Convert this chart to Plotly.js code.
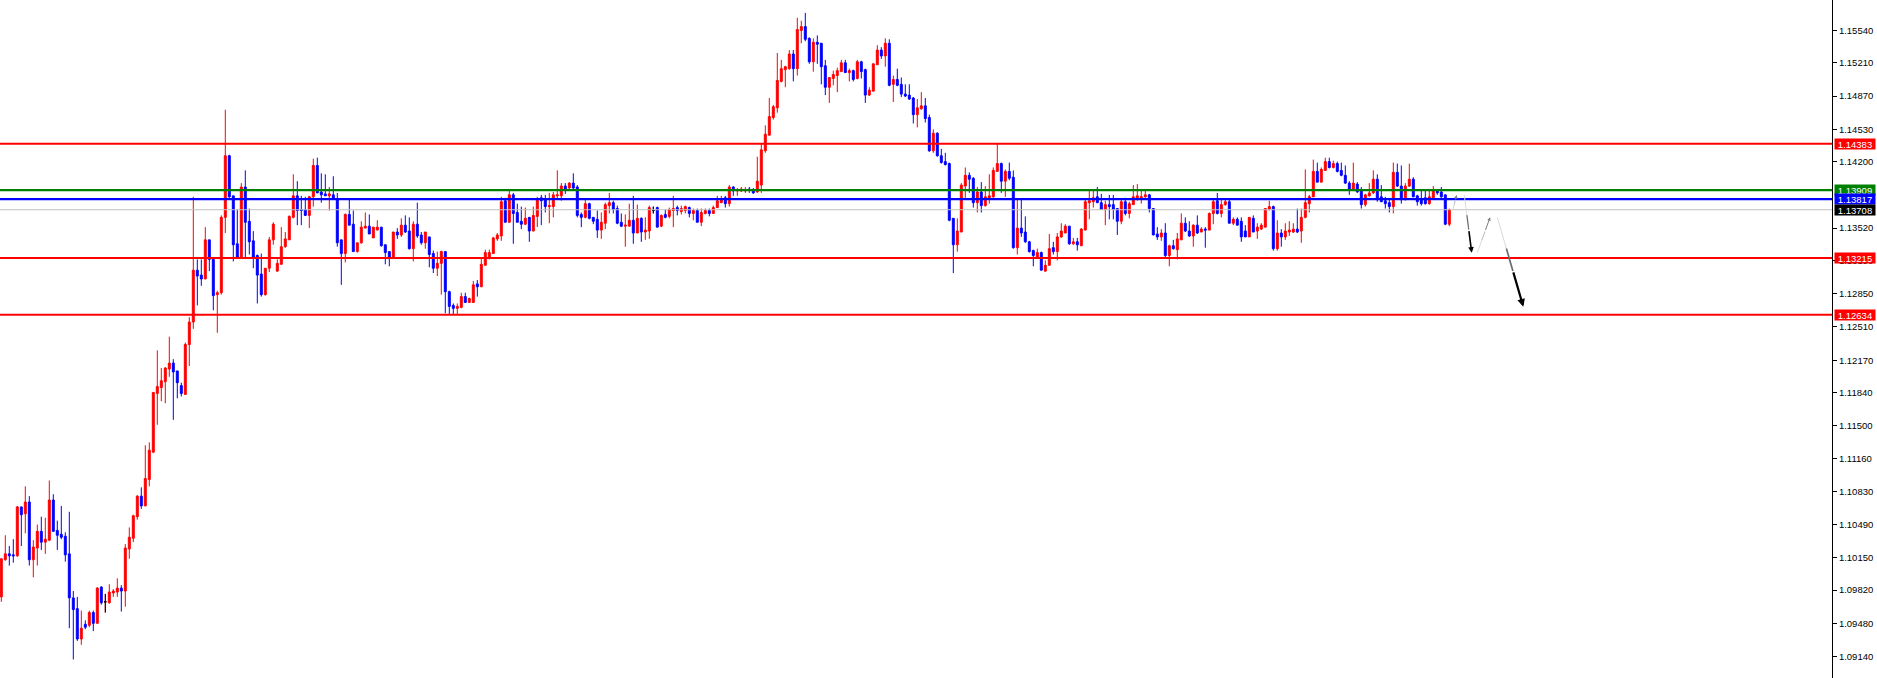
<!DOCTYPE html>
<html><head><meta charset="utf-8">
<script src="https://cdn.plot.ly/plotly-3.0.1.min.js"></script>
<style>html,body{margin:0;padding:0;background:#fff;overflow:hidden}#chart{width:1877px;height:678px}</style>
</head><body><div id="chart"></div>
<script>
const opens = [
1.0975,1.1013,1.1019,1.1018,1.1017,1.1067,1.1060,1.1072,1.1013,1.1025,
1.1042,1.1031,1.1033,1.1074,1.1043,1.1039,1.1037,1.1019,1.0974,1.0963,
1.0932,1.0947,1.0946,1.0959,1.0948,1.0985,1.0970,1.0969,1.0979,1.0980,
1.0984,1.0981,1.1024,1.1035,1.1057,1.1078,1.1068,1.1095,1.1123,1.1183,
1.1189,1.1195,1.1208,1.1214,1.1206,1.1191,1.1182,1.1233,1.1256,1.1309,
1.1304,1.1300,1.1340,1.1320,1.1284,1.1286,1.1363,1.1426,1.1385,1.1336,
1.1322,1.1394,1.1359,1.1339,1.1324,1.1305,1.1284,1.1311,1.1340,1.1308,
1.1315,1.1333,1.1340,1.1363,1.1385,1.1371,1.1371,1.1365,1.1384,1.1416,
1.1389,1.1387,1.1385,1.1386,1.1382,1.1340,1.1326,1.1366,1.1356,1.1328,
1.1337,1.1352,1.1354,1.1342,1.1350,1.1353,1.1335,1.1328,1.1322,1.1348,
1.1345,1.1355,1.1349,1.1331,1.1356,1.1345,1.1337,1.1343,1.1326,1.1311,
1.1316,1.1328,1.1287,1.1273,1.1270,1.1271,1.1282,1.1276,1.1276,1.1295,
1.1292,1.1314,1.1321,1.1326,1.1341,1.1344,1.1380,1.1358,1.1386,1.1368,
1.1359,1.1356,1.1363,1.1349,1.1364,1.1383,1.1381,1.1374,1.1374,1.1385,
1.1385,1.1395,1.1393,1.1398,1.1394,1.1366,1.1363,1.1377,1.1363,1.1361,
1.1350,1.1357,1.1375,1.1378,1.1372,1.1358,1.1354,1.1354,1.1360,1.1347,
1.1362,1.1348,1.1349,1.1370,1.1373,1.1354,1.1366,1.1364,1.1370,1.1373,
1.1369,1.1370,1.1373,1.1367,1.1370,1.1358,1.1367,1.1370,1.1367,1.1373,
1.1378,1.1383,1.1377,1.1394,1.1390,1.1390,1.1390,1.1392,1.1390,1.1389,
1.1396,1.1431,1.1447,1.1465,1.1475,1.1502,1.1514,1.1515,1.1530,1.1515,
1.1554,1.1558,1.1546,1.1522,1.1542,1.1541,1.1518,1.1496,1.1505,1.1508,
1.1512,1.1521,1.1511,1.1513,1.1505,1.1522,1.1514,1.1488,1.1492,1.1519,
1.1534,1.1528,1.1541,1.1499,1.1504,1.1499,1.1489,1.1488,1.1485,1.1468,
1.1474,1.1477,1.1465,1.1431,1.1449,1.1426,1.1420,1.1418,1.1362,1.1335,
1.1348,1.1395,1.1406,1.1403,1.1378,1.1389,1.1375,1.1383,1.1384,1.1410,
1.1418,1.1400,1.1410,1.1404,1.1332,1.1352,1.1348,1.1338,1.1329,1.1322,
1.1327,1.1308,1.1314,1.1332,1.1328,1.1343,1.1347,1.1354,1.1336,1.1338,
1.1334,1.1350,1.1378,1.1379,1.1384,1.1378,1.1371,1.1376,1.1376,1.1372,
1.1359,1.1379,1.1367,1.1376,1.1383,1.1383,1.1384,1.1386,1.1372,1.1346,
1.1343,1.1347,1.1324,1.1334,1.1330,1.1340,1.1357,1.1349,1.1344,1.1355,
1.1348,1.1351,1.1350,1.1367,1.1380,1.1367,1.1376,1.1379,1.1357,1.1361,
1.1359,1.1349,1.1343,1.1362,1.1349,1.1351,1.1353,1.1371,1.1374,1.1331,
1.1347,1.1343,1.1348,1.1348,1.1351,1.1349,1.1363,1.1377,1.1384,1.1410,
1.1399,1.1411,1.1420,1.1414,1.1418,1.1411,1.1406,1.1398,1.1392,1.1397,
1.1390,1.1376,1.1385,1.1388,1.1402,1.1384,1.1380,1.1378,1.1374,1.1409,
1.1395,1.1383,1.1395,1.1402,1.1385,1.1381,1.1383,1.1377,1.1383,1.1391,
1.1389,1.1386,1.1356];
const highs = [
1.1014,1.1038,1.1027,1.1034,1.1068,1.1067,1.1088,1.1078,1.1033,1.1049,
1.1057,1.1056,1.1094,1.1080,1.1053,1.1068,1.1041,1.1062,1.0981,1.0975,
1.0961,1.0951,1.0961,1.0961,1.0985,1.0986,1.0978,1.0988,1.0983,1.0994,
1.0987,1.1029,1.1046,1.1059,1.1079,1.1087,1.1130,1.1133,1.1184,1.1227,
1.1209,1.1210,1.1241,1.1218,1.1206,1.1194,1.1235,1.1261,1.1384,1.1320,
1.1320,1.1353,1.1340,1.1321,1.1288,1.1365,1.1473,1.1427,1.1385,1.1371,
1.1398,1.1411,1.1372,1.1349,1.1325,1.1326,1.1311,1.1343,1.1358,1.1320,
1.1353,1.1348,1.1365,1.1407,1.1400,1.1385,1.1384,1.1385,1.1423,1.1424,
1.1408,1.1407,1.1394,1.1405,1.1388,1.1340,1.1367,1.1382,1.1370,1.1337,
1.1359,1.1368,1.1366,1.1353,1.1360,1.1353,1.1335,1.1328,1.1348,1.1352,
1.1362,1.1365,1.1363,1.1359,1.1378,1.1348,1.1348,1.1343,1.1329,1.1328,
1.1329,1.1328,1.1288,1.1275,1.1275,1.1286,1.1286,1.1281,1.1298,1.1299,
1.1322,1.1330,1.1330,1.1343,1.1347,1.1384,1.1383,1.1391,1.1388,1.1377,
1.1374,1.1373,1.1363,1.1374,1.1384,1.1386,1.1386,1.1388,1.1389,1.1411,
1.1398,1.1398,1.1399,1.1408,1.1396,1.1368,1.1381,1.1378,1.1363,1.1370,
1.1368,1.1378,1.1388,1.1380,1.1375,1.1367,1.1366,1.1377,1.1385,1.1376,
1.1363,1.1363,1.1375,1.1374,1.1374,1.1366,1.1371,1.1373,1.1385,1.1375,
1.1375,1.1375,1.1374,1.1372,1.1372,1.1372,1.1372,1.1372,1.1375,1.1385,
1.1385,1.1385,1.1396,1.1395,1.1393,1.1394,1.1394,1.1394,1.1393,1.1425,
1.1439,1.1457,1.1485,1.1478,1.1531,1.1524,1.1518,1.1534,1.1534,1.1567,
1.1564,1.1572,1.1547,1.1546,1.1549,1.1541,1.1524,1.1506,1.1513,1.1516,
1.1524,1.1524,1.1515,1.1514,1.1524,1.1523,1.1515,1.1496,1.1520,1.1539,
1.1537,1.1546,1.1545,1.1508,1.1515,1.1506,1.1499,1.1499,1.1486,1.1484,
1.1491,1.1485,1.1468,1.1453,1.1450,1.1433,1.1429,1.1419,1.1362,1.1362,
1.1398,1.1414,1.1409,1.1404,1.1394,1.1399,1.1395,1.1407,1.1414,1.1438,
1.1419,1.1412,1.1419,1.1411,1.1382,1.1382,1.1364,1.1339,1.1330,1.1331,
1.1328,1.1319,1.1346,1.1338,1.1347,1.1357,1.1356,1.1354,1.1342,1.1342,
1.1352,1.1381,1.1391,1.1391,1.1394,1.1387,1.1380,1.1386,1.1386,1.1372,
1.1381,1.1383,1.1379,1.1396,1.1397,1.1391,1.1391,1.1387,1.1372,1.1353,
1.1351,1.1357,1.1335,1.1340,1.1347,1.1367,1.1363,1.1359,1.1356,1.1365,
1.1353,1.1353,1.1368,1.1381,1.1388,1.1382,1.1381,1.1381,1.1363,1.1363,
1.1363,1.1355,1.1363,1.1365,1.1357,1.1357,1.1372,1.1380,1.1375,1.1360,
1.1351,1.1357,1.1359,1.1357,1.1372,1.1372,1.1412,1.1386,1.1422,1.1419,
1.1414,1.1424,1.1424,1.1421,1.1420,1.1419,1.1416,1.1400,1.1419,1.1399,
1.1394,1.1387,1.1398,1.1411,1.1407,1.1396,1.1384,1.1381,1.1419,1.1418,
1.1416,1.1398,1.1418,1.1404,1.1386,1.1391,1.1391,1.1391,1.1395,1.1392,
1.1394,1.1386,1.1372];
const lows = [
1.0970,1.1012,1.1007,1.1010,1.1016,1.1027,1.1040,1.1007,1.0995,1.1007,
1.1023,1.1019,1.1032,1.1042,1.1023,1.1034,1.1011,1.0943,1.0911,1.0930,
1.0926,1.0942,1.0944,1.0940,1.0948,1.0967,1.0959,1.0968,1.0975,1.0975,
1.0960,1.0965,1.1014,1.1031,1.1054,1.1065,1.1068,1.1088,1.1122,1.1151,
1.1175,1.1173,1.1200,1.1156,1.1178,1.1180,1.1182,1.1211,1.1249,1.1273,
1.1293,1.1300,1.1308,1.1268,1.1245,1.1284,1.1347,1.1383,1.1318,1.1322,
1.1322,1.1322,1.1325,1.1311,1.1275,1.1282,1.1283,1.1307,1.1335,1.1308,
1.1315,1.1332,1.1340,1.1362,1.1355,1.1355,1.1365,1.1352,1.1374,1.1388,
1.1378,1.1385,1.1370,1.1382,1.1333,1.1294,1.1317,1.1355,1.1328,1.1327,
1.1336,1.1352,1.1346,1.1342,1.1350,1.1333,1.1315,1.1313,1.1322,1.1341,
1.1343,1.1347,1.1330,1.1318,1.1342,1.1335,1.1331,1.1312,1.1306,1.1303,
1.1284,1.1265,1.1264,1.1264,1.1264,1.1270,1.1276,1.1276,1.1276,1.1282,
1.1292,1.1314,1.1320,1.1326,1.1339,1.1339,1.1358,1.1358,1.1336,1.1358,
1.1351,1.1355,1.1338,1.1349,1.1353,1.1355,1.1368,1.1357,1.1363,1.1381,
1.1380,1.1387,1.1392,1.1392,1.1363,1.1353,1.1362,1.1361,1.1356,1.1342,
1.1341,1.1351,1.1367,1.1367,1.1356,1.1353,1.1333,1.1354,1.1336,1.1347,
1.1338,1.1340,1.1341,1.1367,1.1353,1.1353,1.1362,1.1362,1.1353,1.1365,
1.1366,1.1367,1.1363,1.1360,1.1358,1.1354,1.1366,1.1364,1.1367,1.1373,
1.1378,1.1373,1.1374,1.1385,1.1385,1.1389,1.1388,1.1388,1.1387,1.1388,
1.1388,1.1429,1.1447,1.1463,1.1470,1.1501,1.1496,1.1514,1.1502,1.1508,
1.1541,1.1543,1.1520,1.1512,1.1520,1.1499,1.1488,1.1480,1.1498,1.1491,
1.1512,1.1511,1.1502,1.1502,1.1504,1.1505,1.1480,1.1487,1.1492,1.1519,
1.1525,1.1517,1.1497,1.1481,1.1497,1.1486,1.1486,1.1483,1.1459,1.1455,
1.1473,1.1460,1.1430,1.1429,1.1425,1.1418,1.1416,1.1359,1.1306,1.1328,
1.1348,1.1383,1.1388,1.1373,1.1368,1.1368,1.1374,1.1377,1.1383,1.1410,
1.1388,1.1384,1.1401,1.1331,1.1325,1.1343,1.1337,1.1327,1.1313,1.1321,
1.1309,1.1308,1.1314,1.1325,1.1319,1.1342,1.1347,1.1335,1.1335,1.1329,
1.1334,1.1350,1.1361,1.1373,1.1378,1.1371,1.1355,1.1361,1.1361,1.1345,
1.1356,1.1365,1.1362,1.1376,1.1380,1.1377,1.1383,1.1368,1.1345,1.1340,
1.1339,1.1322,1.1313,1.1330,1.1320,1.1340,1.1348,1.1343,1.1333,1.1346,
1.1348,1.1332,1.1350,1.1356,1.1366,1.1363,1.1375,1.1357,1.1355,1.1355,
1.1338,1.1343,1.1343,1.1348,1.1341,1.1350,1.1353,1.1370,1.1329,1.1329,
1.1333,1.1340,1.1344,1.1347,1.1347,1.1337,1.1362,1.1368,1.1384,1.1399,
1.1399,1.1411,1.1413,1.1413,1.1409,1.1405,1.1397,1.1386,1.1391,1.1388,
1.1372,1.1374,1.1384,1.1387,1.1379,1.1379,1.1372,1.1368,1.1367,1.1394,
1.1377,1.1380,1.1394,1.1384,1.1375,1.1375,1.1376,1.1376,1.1382,1.1386,
1.1383,1.1355,1.1354];
const closes = [
1.1014,1.1019,1.1017,1.1017,1.1067,1.1059,1.1072,1.1013,1.1026,1.1042,
1.1031,1.1034,1.1074,1.1042,1.1038,1.1036,1.1018,1.0974,1.0962,1.0932,
1.0943,1.0944,1.0959,1.0948,1.0984,1.0969,1.0970,1.0980,1.0981,1.0984,
1.0981,1.1025,1.1036,1.1058,1.1078,1.1068,1.1096,1.1125,1.1184,1.1190,
1.1196,1.1209,1.1214,1.1205,1.1194,1.1183,1.1233,1.1256,1.1309,1.1303,
1.1300,1.1340,1.1320,1.1283,1.1286,1.1363,1.1426,1.1384,1.1335,1.1322,
1.1394,1.1358,1.1338,1.1322,1.1304,1.1284,1.1311,1.1340,1.1356,1.1316,
1.1333,1.1341,1.1364,1.1385,1.1370,1.1370,1.1365,1.1384,1.1416,1.1388,
1.1386,1.1385,1.1387,1.1382,1.1337,1.1326,1.1366,1.1355,1.1328,1.1337,
1.1353,1.1354,1.1346,1.1353,1.1353,1.1334,1.1327,1.1322,1.1348,1.1345,
1.1355,1.1348,1.1331,1.1356,1.1344,1.1337,1.1348,1.1325,1.1311,1.1316,
1.1328,1.1287,1.1272,1.1270,1.1272,1.1282,1.1276,1.1280,1.1294,1.1292,
1.1315,1.1327,1.1327,1.1342,1.1345,1.1379,1.1358,1.1386,1.1367,1.1358,
1.1356,1.1362,1.1349,1.1365,1.1382,1.1380,1.1374,1.1375,1.1386,1.1386,
1.1395,1.1391,1.1398,1.1393,1.1365,1.1363,1.1377,1.1362,1.1359,1.1350,
1.1358,1.1376,1.1378,1.1371,1.1357,1.1354,1.1355,1.1360,1.1347,1.1362,
1.1348,1.1350,1.1373,1.1370,1.1353,1.1365,1.1363,1.1371,1.1372,1.1370,
1.1372,1.1374,1.1367,1.1370,1.1358,1.1368,1.1370,1.1367,1.1373,1.1380,
1.1382,1.1377,1.1394,1.1390,1.1391,1.1392,1.1391,1.1391,1.1388,1.1400,
1.1432,1.1448,1.1466,1.1476,1.1503,1.1515,1.1517,1.1530,1.1515,1.1555,
1.1558,1.1545,1.1522,1.1542,1.1540,1.1517,1.1496,1.1506,1.1509,1.1513,
1.1521,1.1511,1.1513,1.1504,1.1522,1.1512,1.1488,1.1493,1.1520,1.1534,
1.1528,1.1541,1.1498,1.1504,1.1498,1.1489,1.1487,1.1484,1.1468,1.1475,
1.1477,1.1464,1.1431,1.1449,1.1426,1.1419,1.1417,1.1360,1.1335,1.1349,
1.1396,1.1406,1.1402,1.1378,1.1389,1.1375,1.1384,1.1385,1.1411,1.1418,
1.1400,1.1410,1.1403,1.1332,1.1352,1.1347,1.1338,1.1328,1.1324,1.1327,
1.1309,1.1314,1.1331,1.1328,1.1343,1.1349,1.1354,1.1336,1.1338,1.1335,
1.1351,1.1379,1.1380,1.1383,1.1378,1.1371,1.1376,1.1374,1.1371,1.1359,
1.1379,1.1367,1.1377,1.1384,1.1385,1.1384,1.1386,1.1372,1.1345,1.1343,
1.1347,1.1324,1.1334,1.1331,1.1341,1.1357,1.1349,1.1344,1.1355,1.1347,
1.1351,1.1350,1.1367,1.1379,1.1367,1.1376,1.1379,1.1357,1.1361,1.1355,
1.1343,1.1343,1.1363,1.1348,1.1353,1.1355,1.1372,1.1374,1.1331,1.1347,
1.1343,1.1349,1.1350,1.1351,1.1348,1.1363,1.1378,1.1384,1.1410,1.1399,
1.1412,1.1420,1.1414,1.1418,1.1410,1.1406,1.1398,1.1392,1.1398,1.1389,
1.1376,1.1386,1.1388,1.1402,1.1381,1.1379,1.1377,1.1374,1.1409,1.1395,
1.1381,1.1395,1.1402,1.1384,1.1379,1.1377,1.1377,1.1384,1.1391,1.1388,
1.1384,1.1356,1.1371];

// horizontal price levels drawn on the chart
const levelPrices = [1.14383, 1.13909, 1.13817, 1.13708, 1.13215, 1.12634];
const levelLabels = ['1.14383', '1.13909', '1.13817', '1.13708', '1.13215', '1.12634'];
const levelLineColors = ['#ff0000', '#008000', '#0000ff', '#c0c0c0', '#ff0000', '#ff0000'];
const levelLineWidths = [2, 2.2, 2.2, 1, 2, 2];
const levelBoxColors = ['#ff0000', '#008000', '#0000ff', '#000000', '#ff0000', '#ff0000'];

// price scale ticks (the 1.13860 tick is hidden behind the level boxes in the original)
const tickVals = [1.15540, 1.15210, 1.14870, 1.14530, 1.14200, 1.13520, 1.13190, 1.12850, 1.12510,
  1.12170, 1.11840, 1.11500, 1.11160, 1.10830, 1.10490, 1.10150, 1.09820, 1.09480, 1.09140];
const tickText = ['1.15540', '1.15210', '1.14870', '1.14530', '1.14200', '1.13520', '1.13190', '1.12850', '1.12510',
  '1.12170', '1.11840', '1.11500', '1.11160', '1.10830', '1.10490', '1.10150', '1.09820', '1.09480', '1.09140'];

// projected path (bar position, price) : pairs of tail -> head
const pathIdx = [362.85, 363.85, 365.75, 367.6, 369.0, 372.2, 374.0, 380.5];
const pathPrice = [1.13705, 1.13859, 1.13859, 1.13269, 1.13269, 1.13631, 1.13631, 1.12717];

const xIdx = opens.map((_, i) => i);
const dojiIdx = xIdx.filter(i => opens[i] === closes[i]);

const traces = [
  {
    type: 'candlestick', x: xIdx, open: opens, high: highs, low: lows, close: closes,
    increasing: {line: {color: '#ff0000', width: 1}, fillcolor: '#ff0000'},
    decreasing: {line: {color: '#0000ff', width: 1}, fillcolor: '#0000ff'},
    whiskerwidth: 0, hoverinfo: 'skip', showlegend: false
  },
  {
    type: 'candlestick', x: dojiIdx,
    open: dojiIdx.map(i => opens[i]), high: dojiIdx.map(i => highs[i]),
    low: dojiIdx.map(i => lows[i]), close: dojiIdx.map(i => closes[i]),
    increasing: {line: {color: '#000000', width: 1}, fillcolor: '#000000'},
    decreasing: {line: {color: '#000000', width: 1}, fillcolor: '#000000'},
    whiskerwidth: 0, hoverinfo: 'skip', showlegend: false
  }
];

const FONT = 'Liberation Sans, Arial, sans-serif';
const shapes = [];
const annotations = [];

levelPrices.forEach((p, k) => {
  shapes.push({type: 'line', xref: 'paper', x0: 0, x1: 1, yref: 'y', y0: p, y1: p,
    line: {color: levelLineColors[k], width: levelLineWidths[k]}, layer: 'above'});
  annotations.push({xref: 'paper', x: 1, xanchor: 'left', xshift: 2, yref: 'y', y: p, yanchor: 'middle',
    text: levelLabels[k], showarrow: false, bgcolor: levelBoxColors[k], borderpad: 0,
    width: 40, height: 10, align: 'center', font: {family: FONT, size: 9.5, color: '#ffffff'}});
});

const strokeW = [1, 1.6, 1, 2.2];
const strokeInk = ['#808080', '#000000', '#808080', '#000000'];
for (let s = 0; s < 4; s++) {
  const x0 = pathIdx[2 * s], y0 = pathPrice[2 * s], x1 = pathIdx[2 * s + 1], y1 = pathPrice[2 * s + 1];
  const pt = t => [x0 + (x1 - x0) * t, y0 + (y1 - y0) * t];
  const a = pt(0.35), b = pt(0.6);
  shapes.push({type: 'line', xref: 'x', yref: 'y', x0: x0, y0: y0, x1: a[0], y1: a[1],
    line: {color: '#dadada', width: 1}});
  shapes.push({type: 'line', xref: 'x', yref: 'y', x0: a[0], y0: a[1], x1: b[0], y1: b[1],
    line: {color: s % 2 ? '#6a6a6a' : '#b8b8b8', width: Math.max(1, strokeW[s] * 0.75)}});
  annotations.push({xref: 'x', yref: 'y', x: x1, y: y1, axref: 'x', ayref: 'y', ax: b[0], ay: b[1],
    text: '', showarrow: true, arrowhead: 2, arrowsize: 0.7, arrowwidth: strokeW[s],
    arrowcolor: strokeInk[s], standoff: 0, startstandoff: 0});
}

const layout = {
  width: 1877, height: 678,
  margin: {l: 0, r: 45, t: 0, b: 0, pad: 0},
  paper_bgcolor: '#ffffff', plot_bgcolor: '#ffffff',
  showlegend: false,
  boxgap: 0.3, boxgroupgap: 0.3,
  xaxis: {range: [-0.325, 457.675], visible: false, showgrid: false, zeroline: false,
    rangeslider: {visible: false}, fixedrange: true},
  yaxis: {side: 'right', range: [1.08921, 1.15852], showgrid: false, zeroline: false,
    showline: true, linecolor: '#000000', linewidth: 1, mirror: false,
    ticks: 'outside', ticklen: 4, tickwidth: 1, tickcolor: '#000000',
    tickmode: 'array', tickvals: tickVals, ticktext: tickText,
    tickfont: {family: FONT, size: 9.5, color: '#000000'}, fixedrange: true},
  shapes: shapes,
  annotations: annotations
};

Plotly.newPlot('chart', traces, layout, {staticPlot: true, displayModeBar: false});
</script>
</body></html>
